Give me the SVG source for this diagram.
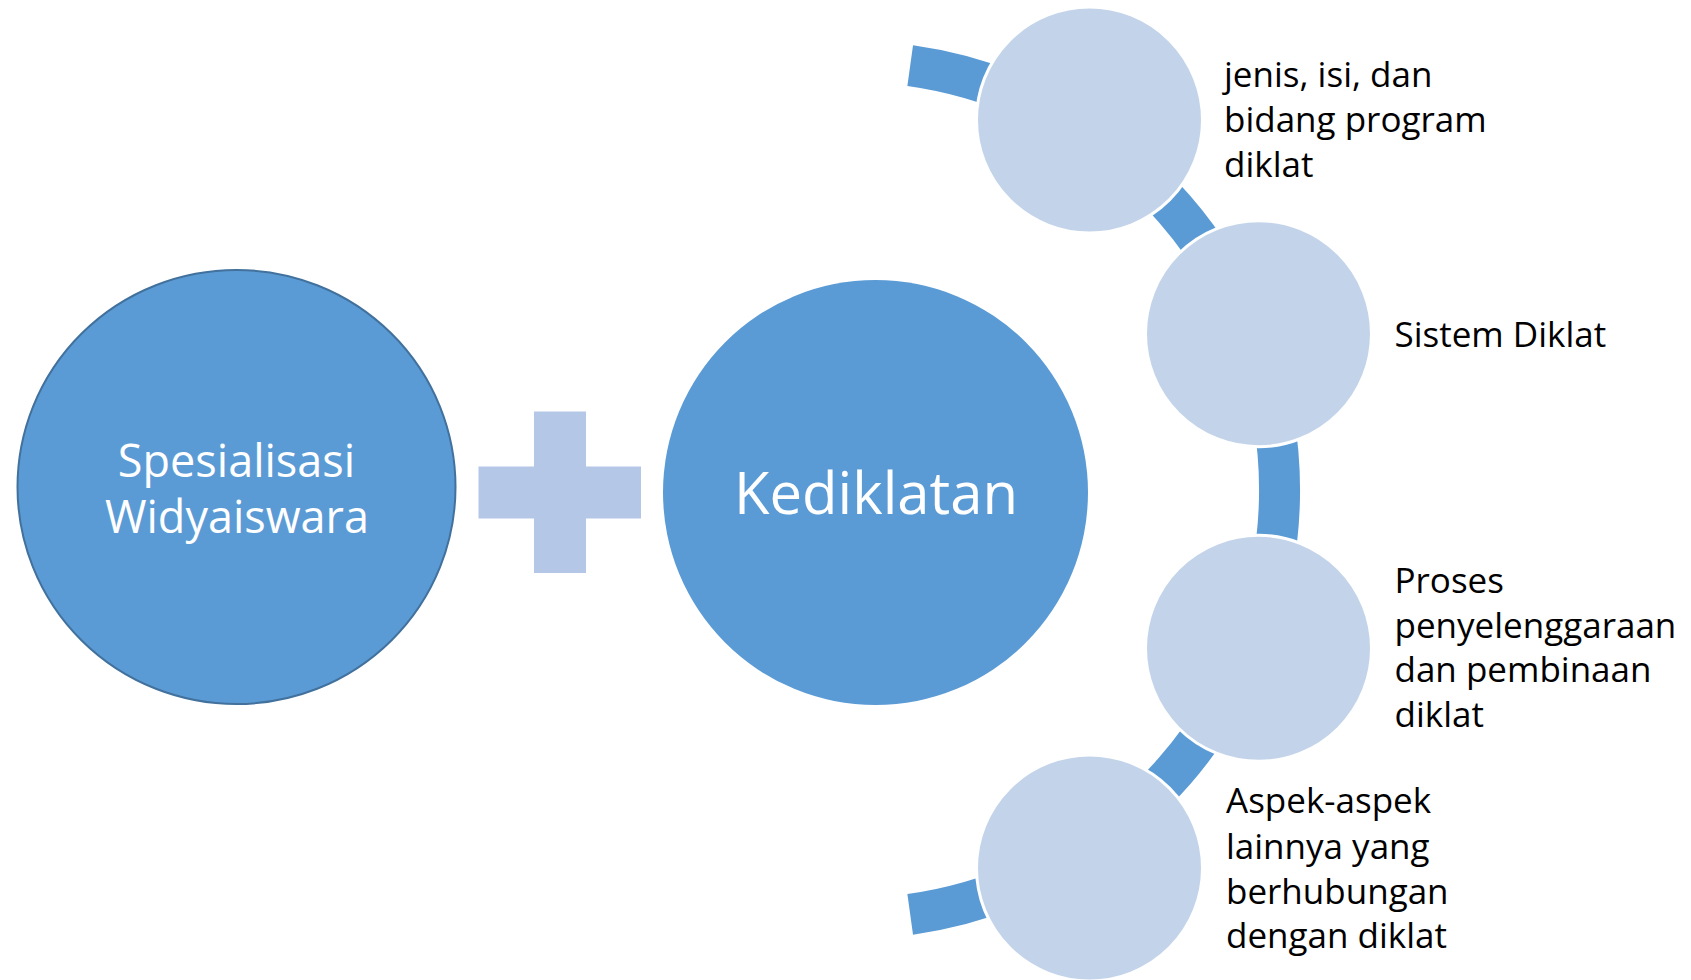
<svg xmlns="http://www.w3.org/2000/svg" width="1691" height="980" viewBox="0 0 1691 980">
  <style>
    .big { fill: #5b9bd5; }
    .small { fill: #c3d4ea; stroke: #ffffff; stroke-width: 3; }
    .wt { fill: #ffffff; font-family: "Open Sans", "Noto Sans", sans-serif; text-anchor: middle; }
    .lbl { fill: #000000; font-family: "Open Sans", "Noto Sans", sans-serif; font-size: 35px; }
  </style>
  <rect width="1691" height="980" fill="#ffffff"/>
  <g id="connectors">
    <path d="M 910.2 65.6 A 428.5 428.5 0 0 1 910.2 914.4" fill="none" stroke="#5b9bd5" stroke-width="41"/>
  </g>
  <g id="node-spesialisasi">
    <ellipse cx="236.5" cy="487" rx="219" ry="217" class="big" stroke="#41719c" stroke-width="2"/>
    <text class="wt" font-size="45" x="236.5" y="476.7">Spesialisasi</text>
    <text class="wt" font-size="45" x="237" y="533.3">Widyaiswara</text>
  </g>
  <g id="node-plus">
    <path d="M534 411.5 H586 V466.5 H641 V518.5 H586 V573 H534 V518.5 H478.5 V466.5 H534 Z" fill="#b4c7e7"/>
  </g>
  <g id="node-kediklatan">
    <circle cx="875.5" cy="492.5" r="212.5" class="big"/>
    <text class="wt" font-size="58" x="876" y="514">Kediklatan</text>
  </g>
  <g id="node-jenis">
    <circle cx="1089.5" cy="120" r="113" class="small"/>
    <text class="lbl" x="1224" y="87.3">jenis, isi, dan</text>
    <text class="lbl" x="1224" y="132">bidang program</text>
    <text class="lbl" x="1224" y="176.7">diklat</text>
  </g>
  <g id="node-sistem">
    <circle cx="1258.5" cy="333.7" r="113" class="small"/>
    <text class="lbl" x="1394.5" y="346.7">Sistem Diklat</text>
  </g>
  <g id="node-proses">
    <circle cx="1258.5" cy="648.3" r="113" class="small"/>
    <text class="lbl" x="1394.5" y="593.3">Proses</text>
    <text class="lbl" x="1394.5" y="637.5">penyelenggaraan</text>
    <text class="lbl" x="1394.5" y="682">dan pembinaan</text>
    <text class="lbl" x="1394.5" y="726.7">diklat</text>
  </g>
  <g id="node-aspek">
    <circle cx="1089.5" cy="868" r="113" class="small"/>
    <text class="lbl" x="1226" y="813.3">Aspek-aspek</text>
    <text class="lbl" x="1226" y="858.5">lainnya yang</text>
    <text class="lbl" x="1226" y="903.5">berhubungan</text>
    <text class="lbl" x="1226" y="948.3">dengan diklat</text>
  </g>
</svg>
